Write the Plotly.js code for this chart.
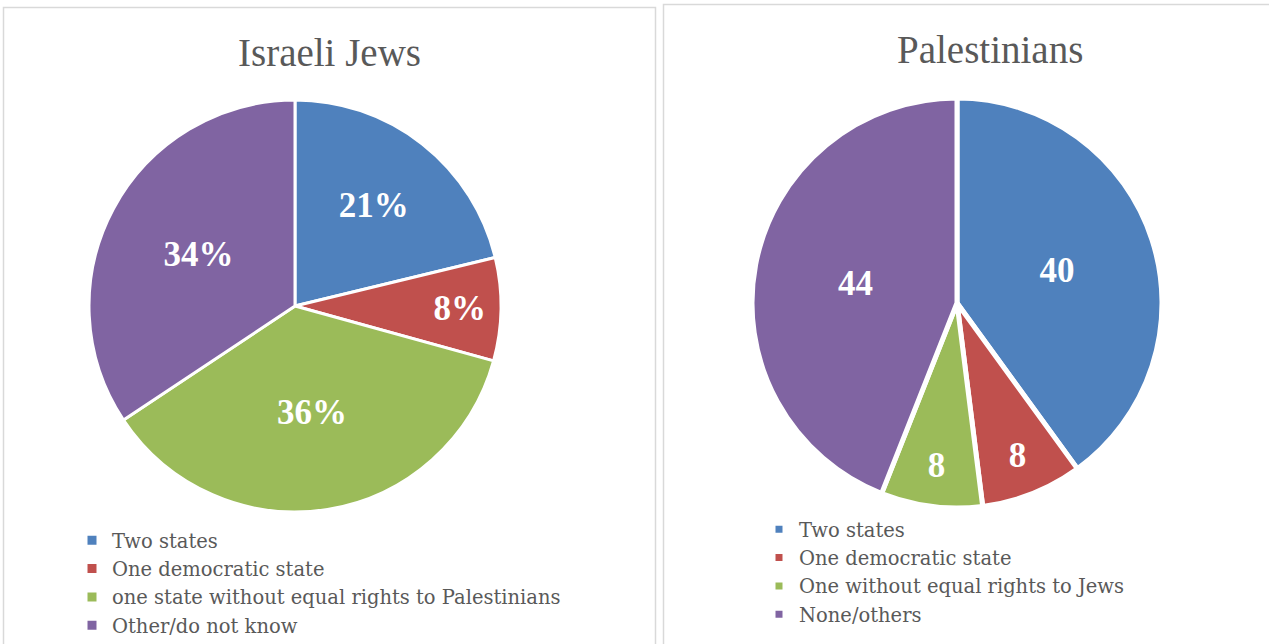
<!DOCTYPE html>
<html>
<head>
<meta charset="utf-8">
<script src="https://cdn.plot.ly/plotly-3.0.1.min.js"></script>
<style>html,body{margin:0;padding:0;background:#fff;}#chart{width:1269px;height:644px;}</style>
</head>
<body>
<div id="chart"></div>
<script>
const israeliLabels = ["Two states", "One democratic state", "one state without equal rights to Palestinians", "Other/do not know"];
const israeliValues = [21, 8, 36, 34];
const palestinianLabels = ["Two states ", "One democratic state ", "One without equal rights to Jews", "None/others"];
const palestinianValues = [40, 8, 8, 44];
const sliceColors = ["#4F81BD", "#C0504D", "#9BBB59", "#8064A2"];
const titles = ["Israeli Jews", "Palestinians"];

const W = 1269, H = 644;
const px = v => v / W;
const py = v => 1 - v / H;
const serif = "'Liberation Serif', 'DejaVu Serif', serif";
const wideSerif = "'DejaVu Serif', 'Liberation Serif', serif";

const data = [
  {
    type: "pie",
    labels: israeliLabels,
    values: israeliValues,
    sort: false,
    direction: "clockwise",
    rotation: 0,
    marker: {colors: sliceColors, line: {color: "#ffffff", width: 3}},
    texttemplate: "%{value}%",
    textposition: "inside",
    insidetextorientation: "horizontal",
    textfont: {family: serif, size: 35, color: "#ffffff", weight: "bold"},
    hoverinfo: "none",
    domain: {x: [px(89), px(501)], y: [py(512), py(100)]},
    legend: "legend"
  },
  {
    type: "pie",
    labels: palestinianLabels,
    values: palestinianValues,
    sort: false,
    direction: "clockwise",
    rotation: 0,
    marker: {colors: sliceColors, line: {color: "#ffffff", width: 5}},
    texttemplate: "%{value}",
    textposition: "inside",
    insidetextorientation: "horizontal",
    textfont: {family: serif, size: 35, color: "#ffffff", weight: "bold"},
    hoverinfo: "none",
    domain: {x: [px(752), px(1162)], y: [py(508), py(98)]},
    legend: "legend2"
  }
];

const legendFont = {family: wideSerif, size: 19.5, color: "#595959"};
const layout = {
  width: W, height: H,
  margin: {l: 0, r: 0, t: 0, b: 0, autoexpand: false},
  paper_bgcolor: "#ffffff",
  plot_bgcolor: "#ffffff",
  showlegend: true,
  legend: {x: px(72), y: py(521), xanchor: "left", yanchor: "top", font: legendFont, tracegroupgap: 0, itemclick: false},
  legend2: {x: px(759), y: py(510), xanchor: "left", yanchor: "top", font: legendFont, tracegroupgap: 0, itemclick: false},
  annotations: [
    {text: titles[0], x: px(329), y: py(52), xref: "paper", yref: "paper", xanchor: "center", yanchor: "middle", showarrow: false, font: {family: serif, size: 39, color: "#595959"}},
    {text: titles[1], x: px(990), y: py(49), xref: "paper", yref: "paper", xanchor: "center", yanchor: "middle", showarrow: false, font: {family: serif, size: 39, color: "#595959"}}
  ],
  shapes: [
    {type: "rect", xref: "paper", yref: "paper", x0: px(3.5), x1: px(655.5), y0: -0.1, y1: py(7.5), line: {color: "#D9D9D9", width: 1.5}, fillcolor: "rgba(0,0,0,0)"},
    {type: "rect", xref: "paper", yref: "paper", x0: px(663.5), x1: 1.1, y0: -0.1, y1: py(4.5), line: {color: "#D9D9D9", width: 1.5}, fillcolor: "rgba(0,0,0,0)"}
  ]
};

Plotly.newPlot("chart", data, layout, {staticPlot: true, displayModeBar: false});
</script>
</body>
</html>
